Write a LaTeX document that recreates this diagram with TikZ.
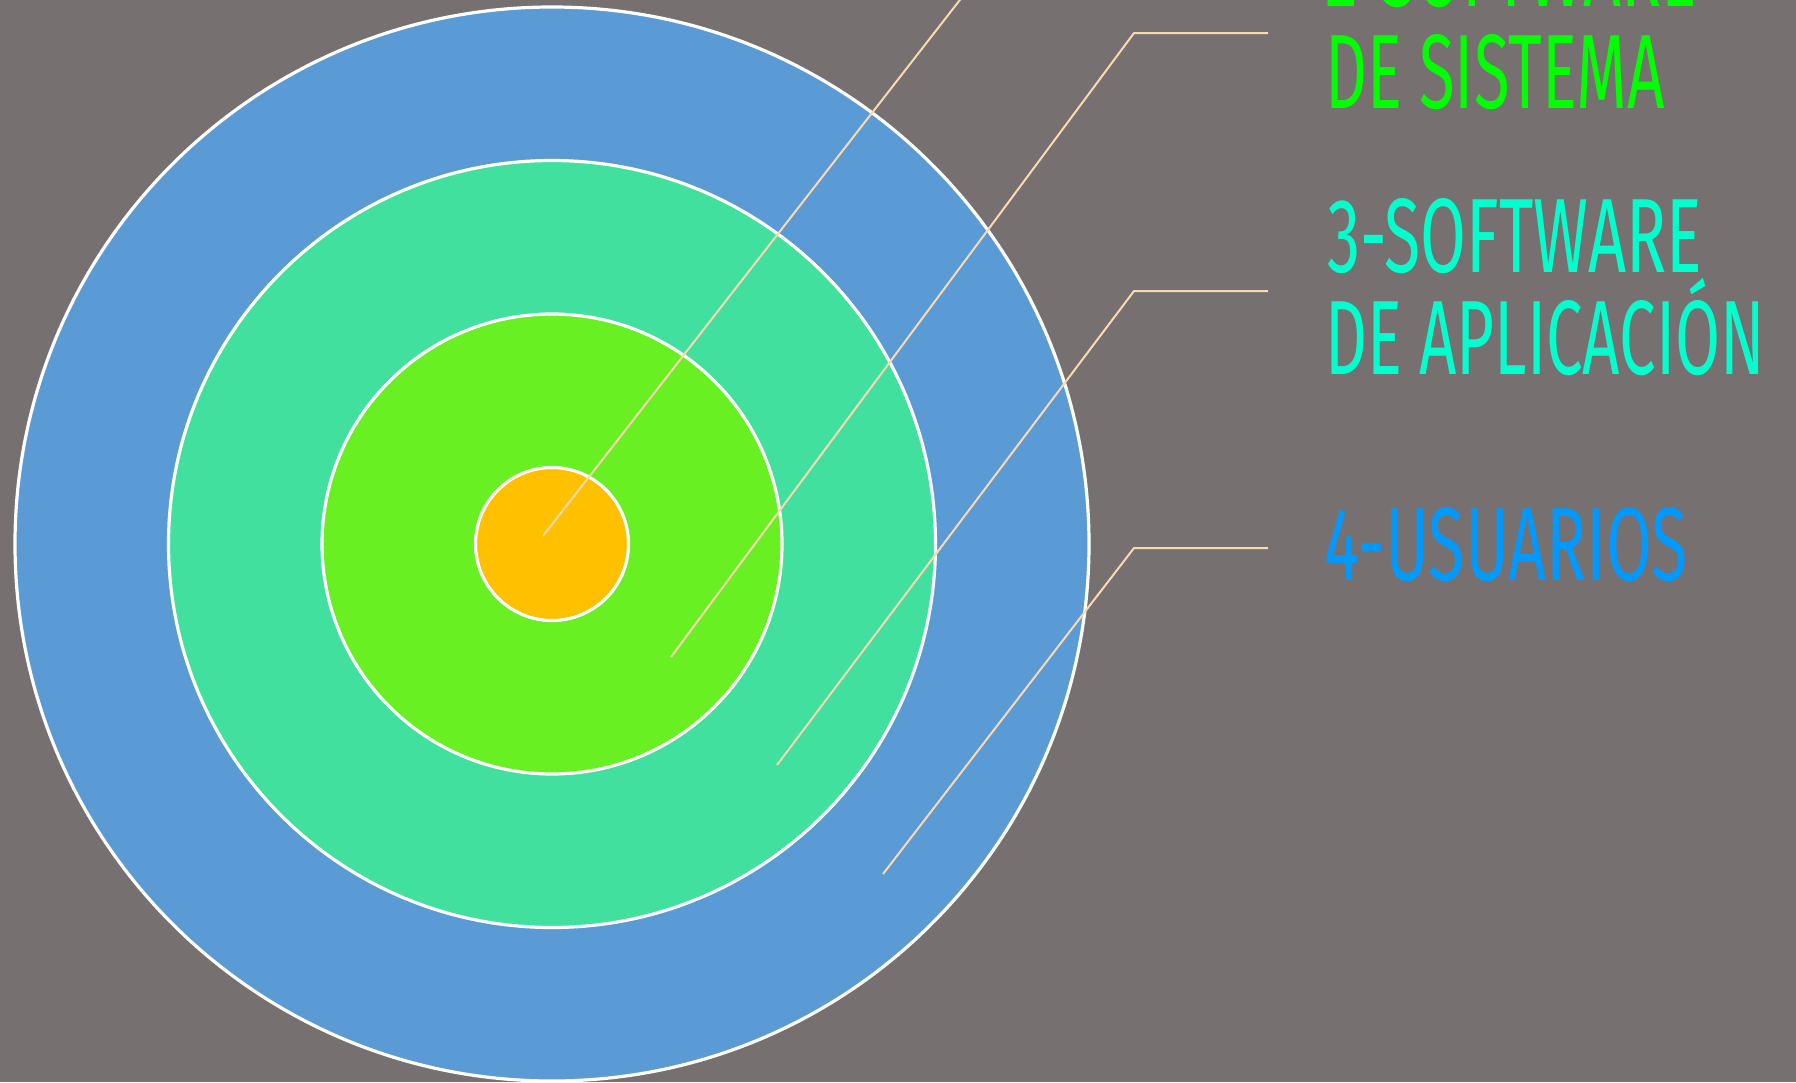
\documentclass[tikz,border=0pt]{standalone}
\usepackage{graphicx}
\usepackage{fontspec}
\setmainfont{Fira Sans}
\definecolor{bgc}{RGB}{118,113,112}
\definecolor{cblue}{RGB}{91,155,213}
\definecolor{cteal}{RGB}{66,224,158}
\definecolor{cgreen}{RGB}{104,240,34}
\definecolor{corange}{RGB}{255,192,0}
\definecolor{leadc}{RGB}{250,217,178}
\definecolor{tgreen}{RGB}{0,255,0}
\definecolor{taqua}{RGB}{0,255,204}
\definecolor{tblue}{RGB}{0,153,255}
\tikzset{
  ring/.style={circle, draw=white, line width=3.2pt, inner sep=0pt, outer sep=0pt},
  leader/.style={draw=leadc, line width=2pt},
  lbl/.style={anchor=base west, inner sep=0pt, outer sep=0pt, font=\fontsize{107}{110}\selectfont}
}
\begin{document}
\begin{tikzpicture}[x=1pt,y=-1pt]
\fill[bgc] (0,0) rectangle (1796,1082);
\useasboundingbox (0,0) rectangle (1796,1082);
\clip (0,0) rectangle (1796,1082);
% rings
\node[ring, fill=cblue,   minimum size=1074pt] (c4) at (552,544) {};
\node[ring, fill=cteal,   minimum size=767pt]  (c3) at (552,544) {};
\node[ring, fill=cgreen,  minimum size=460pt]  (c2) at (552,544) {};
\node[ring, fill=corange, minimum size=153pt]  (c1) at (552,544) {};
% leader coordinates
\coordinate (s1) at (543,536);
\coordinate (k1) at (1134,-224);
\coordinate (e1) at (1268,-224);
\coordinate (s2) at (671,657);
\coordinate (k2) at (1134,33);
\coordinate (e2) at (1268,33);
\coordinate (s3) at (777,765);
\coordinate (k3) at (1134,291);
\coordinate (e3) at (1268,291);
\coordinate (s4) at (883,874);
\coordinate (k4) at (1134,548);
\coordinate (e4) at (1268,548);
\draw[leader] (s1) -- (k1) -- (e1);
\draw[leader] (s2) -- (k2) -- (e2);
\draw[leader] (s3) -- (k3) -- (e3);
\draw[leader] (s4) -- (k4) -- (e4);
% labels
\node[lbl, text=tgreen] (t2a) at (1325,6) {\resizebox{372pt}{74pt}{2-SOFTWARE}};
\node[lbl, text=tgreen] (t2b) at (1325,108) {\resizebox{340pt}{74pt}{DE SISTEMA}};
\node[lbl, text=taqua] (t3a) at (1327,272) {\resizebox{375pt}{74pt}{3-SOFTWARE}};
\node[lbl, text=taqua] (t3b) at (1325,374) {\resizebox{440pt}{74pt}{DE APLICACI\smash{Ó}N}};
\node[lbl, text=tblue] (t4) at (1324,580) {\resizebox{364pt}{73pt}{4-USUARIOS}};
\end{tikzpicture}
\end{document}
